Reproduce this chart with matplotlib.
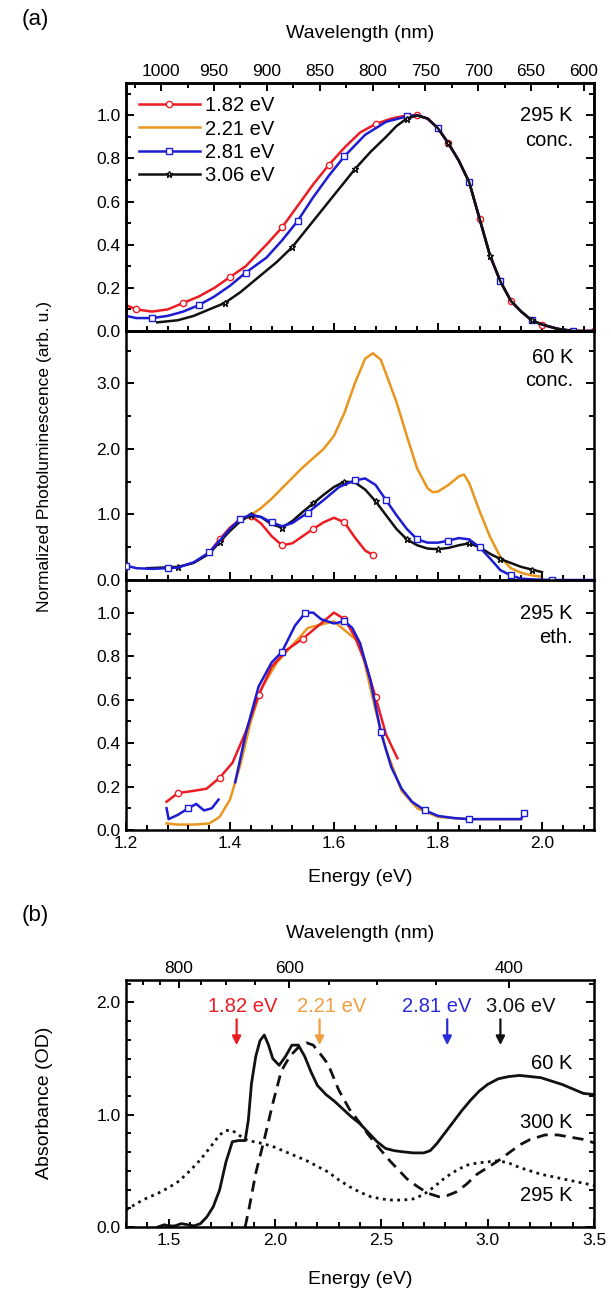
import numpy as np
import matplotlib
matplotlib.use('Agg')
import matplotlib.pyplot as plt
from matplotlib.ticker import MultipleLocator, FormatStrFormatter, FixedLocator

plt.rcParams['font.family'] = ['Liberation Sans', 'DejaVu Sans']

RED = '#ec1c24'
ORANGE = '#e8961e'
BLUE = '#1c1cd2'
BLACK = '#111111'

# ---------------- (a) PL, 295 K concentrated ----------------
# common high-energy tail (all excitations overlap here)
e_tail_295c = [1.76, 1.78, 1.80, 1.82, 1.84, 1.86, 1.88, 1.90, 1.92, 1.94, 1.96, 1.98, 2.00, 2.03, 2.06, 2.10]
pl_tail_295c = [1.0, 0.985, 0.94, 0.87, 0.79, 0.69, 0.52, 0.35, 0.23, 0.14, 0.09, 0.05, 0.03, 0.01, 0.0, 0.0]

e_red_295c = [1.20, 1.22, 1.25, 1.28, 1.31, 1.34, 1.37, 1.40, 1.43, 1.47, 1.50, 1.53, 1.56, 1.59, 1.62, 1.65, 1.68, 1.71, 1.74]
pl_red_295c = [0.12, 0.10, 0.09, 0.10, 0.13, 0.16, 0.20, 0.25, 0.30, 0.40, 0.48, 0.58, 0.68, 0.77, 0.85, 0.92, 0.96, 0.985, 1.0]

e_blue_295c = [1.20, 1.22, 1.25, 1.28, 1.31, 1.34, 1.37, 1.40, 1.43, 1.47, 1.50, 1.53, 1.56, 1.59, 1.62, 1.66, 1.70, 1.74]
pl_blue_295c = [0.07, 0.06, 0.06, 0.07, 0.09, 0.12, 0.16, 0.21, 0.27, 0.34, 0.42, 0.51, 0.62, 0.72, 0.81, 0.91, 0.97, 0.995]

e_black_295c = [1.26, 1.28, 1.30, 1.33, 1.36, 1.39, 1.42, 1.45, 1.49, 1.52, 1.55, 1.58, 1.61, 1.64, 1.67, 1.70, 1.72, 1.74]
pl_black_295c = [0.04, 0.045, 0.05, 0.07, 0.10, 0.13, 0.18, 0.24, 0.32, 0.39, 0.48, 0.57, 0.66, 0.75, 0.83, 0.90, 0.95, 0.985]

# ---------------- (a) PL, 60 K concentrated ----------------
e_red_60 = [1.36, 1.38, 1.40, 1.42, 1.44, 1.46, 1.48, 1.50, 1.52, 1.54, 1.56, 1.58, 1.60, 1.62, 1.64, 1.66, 1.675]
pl_red_60 = [0.42, 0.62, 0.80, 0.93, 0.98, 0.86, 0.67, 0.53, 0.56, 0.67, 0.78, 0.88, 0.95, 0.88, 0.65, 0.45, 0.38]

e_orange_60 = [1.40, 1.42, 1.44, 1.46, 1.48, 1.50, 1.52, 1.54, 1.56, 1.58, 1.60, 1.62, 1.64, 1.66, 1.675, 1.69,
               1.70, 1.72, 1.74, 1.76, 1.78, 1.79, 1.80, 1.82, 1.84, 1.85, 1.86, 1.88, 1.90, 1.92, 1.94, 1.96, 1.98, 2.00]
pl_orange_60 = [0.75, 0.90, 0.99, 1.10, 1.24, 1.40, 1.56, 1.72, 1.86, 2.00, 2.20, 2.55, 3.00, 3.38, 3.46, 3.36,
                3.15, 2.72, 2.20, 1.70, 1.40, 1.34, 1.35, 1.45, 1.58, 1.61, 1.48, 1.05, 0.66, 0.35, 0.18, 0.11, 0.07, 0.05]

e_blue_60 = [1.20, 1.22, 1.25, 1.28, 1.30, 1.33, 1.36, 1.38, 1.40, 1.42, 1.44, 1.46, 1.48, 1.50, 1.52, 1.55, 1.58,
             1.61, 1.64, 1.66, 1.68, 1.70, 1.72, 1.74, 1.76, 1.78, 1.80, 1.82, 1.84, 1.86, 1.88, 1.90, 1.92,
             1.94, 1.96, 1.98, 2.02, 2.06, 2.10]
pl_blue_60 = [0.22, 0.18, 0.17, 0.18, 0.19, 0.27, 0.42, 0.60, 0.78, 0.93, 1.0, 0.96, 0.88, 0.82, 0.87, 1.03, 1.22,
              1.42, 1.52, 1.55, 1.45, 1.22, 0.99, 0.78, 0.62, 0.57, 0.57, 0.60, 0.64, 0.62, 0.50, 0.33, 0.15,
              0.07, 0.02, 0.01, 0.0, 0.0, 0.0]

e_black_60 = [1.24, 1.27, 1.30, 1.33, 1.36, 1.38, 1.40, 1.42, 1.44, 1.46, 1.48, 1.50, 1.52, 1.54, 1.56, 1.58, 1.60,
              1.62, 1.64, 1.66, 1.68, 1.70, 1.72, 1.74, 1.76, 1.78, 1.80, 1.82, 1.84, 1.86, 1.88, 1.90, 1.92,
              1.94, 1.96, 1.98, 2.00]
pl_black_60 = [0.18, 0.19, 0.20, 0.26, 0.40, 0.58, 0.75, 0.90, 0.99, 0.96, 0.85, 0.80, 0.90, 1.04, 1.17, 1.30, 1.42,
               1.50, 1.49, 1.38, 1.20, 0.99, 0.78, 0.62, 0.53, 0.48, 0.47, 0.49, 0.53, 0.56, 0.50, 0.40, 0.32,
               0.26, 0.20, 0.16, 0.12]

# ---------------- (a) PL, 295 K ethanol ----------------
e_red_eth = [1.278, 1.30, 1.33, 1.355, 1.38, 1.405, 1.43, 1.455, 1.48, 1.51, 1.54, 1.57, 1.60, 1.62, 1.64, 1.66, 1.68, 1.70, 1.722]
pl_red_eth = [0.13, 0.17, 0.18, 0.19, 0.24, 0.31, 0.45, 0.62, 0.75, 0.83, 0.88, 0.94, 1.0, 0.97, 0.89, 0.77, 0.61, 0.44, 0.33]

e_orange_eth = [1.278, 1.30, 1.33, 1.36, 1.38, 1.40, 1.42, 1.44, 1.46, 1.49, 1.52, 1.55, 1.60, 1.65, 1.68, 1.70,
                1.73, 1.76, 1.80, 1.86, 1.96]
pl_orange_eth = [0.03, 0.025, 0.025, 0.03, 0.06, 0.14, 0.30, 0.50, 0.65, 0.77, 0.85, 0.93, 0.96, 0.86, 0.55, 0.37,
                 0.18, 0.10, 0.06, 0.05, 0.05]

e_blue_eth_low = [1.278, 1.282, 1.30, 1.32, 1.335, 1.35, 1.365, 1.378]
pl_blue_eth_low = [0.10, 0.05, 0.07, 0.10, 0.12, 0.09, 0.10, 0.14]
e_blue_eth = [1.41, 1.43, 1.455, 1.48, 1.50, 1.525, 1.545, 1.56, 1.575, 1.60, 1.62, 1.635, 1.65, 1.67, 1.69, 1.71,
              1.73, 1.75, 1.775, 1.80, 1.83, 1.86, 1.90, 1.94, 1.96, 1.965]
pl_blue_eth = [0.22, 0.44, 0.66, 0.77, 0.82, 0.94, 1.0, 1.0, 0.97, 0.95, 0.96, 0.93, 0.86, 0.69, 0.45, 0.29,
               0.19, 0.13, 0.09, 0.065, 0.055, 0.05, 0.05, 0.05, 0.05, 0.08]

# ---------------- (b) absorbance ----------------
e_abs_60 = [1.45, 1.48, 1.50, 1.53, 1.56, 1.59, 1.62, 1.65, 1.68, 1.71, 1.74, 1.77, 1.80, 1.83, 1.86, 1.875, 1.89,
            1.91, 1.93, 1.95, 1.97, 1.99, 2.02, 2.05, 2.08, 2.11, 2.14, 2.17, 2.20, 2.24, 2.28, 2.32, 2.36, 2.40,
            2.44, 2.48, 2.52, 2.56, 2.60, 2.65, 2.70, 2.73, 2.76, 2.80, 2.84, 2.88, 2.92, 2.96, 3.00, 3.05, 3.10,
            3.15, 3.20, 3.25, 3.30, 3.35, 3.40, 3.45, 3.50]
abs_60 = [0.0, 0.02, 0.01, 0.01, 0.03, 0.02, 0.01, 0.03, 0.09, 0.18, 0.33, 0.58, 0.76, 0.77, 0.77, 0.95, 1.28,
          1.52, 1.66, 1.71, 1.62, 1.50, 1.44, 1.52, 1.62, 1.62, 1.52, 1.38, 1.26, 1.18, 1.12, 1.05, 0.98, 0.92,
          0.84, 0.76, 0.70, 0.68, 0.67, 0.66, 0.66, 0.68, 0.74, 0.84, 0.94, 1.04, 1.13, 1.21, 1.27, 1.32, 1.34,
          1.35, 1.34, 1.33, 1.30, 1.27, 1.23, 1.19, 1.18]

e_abs_300 = [1.86, 1.88, 1.91, 1.95, 1.99, 2.03, 2.07, 2.11, 2.15, 2.18, 2.21, 2.25, 2.30, 2.35, 2.39, 2.44, 2.50,
             2.54, 2.58, 2.62, 2.67, 2.72, 2.77, 2.81, 2.85, 2.90, 2.95, 3.00, 3.05, 3.10, 3.15, 3.20, 3.27,
             3.33, 3.39, 3.45, 3.50]
abs_300 = [0.0, 0.18, 0.48, 0.78, 1.10, 1.39, 1.52, 1.60, 1.64, 1.62, 1.55, 1.45, 1.22, 1.05, 0.95, 0.82, 0.68,
           0.59, 0.51, 0.43, 0.36, 0.30, 0.27, 0.28, 0.31, 0.38, 0.47, 0.53, 0.59, 0.66, 0.73, 0.78, 0.82,
           0.82, 0.80, 0.78, 0.75]

e_abs_295 = [1.30, 1.35, 1.40, 1.45, 1.50, 1.55, 1.60, 1.65, 1.70, 1.74, 1.77, 1.80, 1.83, 1.86, 1.90, 1.95, 2.00,
             2.05, 2.10, 2.15, 2.20, 2.25, 2.30, 2.35, 2.40, 2.45, 2.50, 2.55, 2.60, 2.65, 2.70, 2.75, 2.80,
             2.85, 2.90, 2.95, 3.00, 3.05, 3.10, 3.15, 3.20, 3.25, 3.30, 3.35, 3.40, 3.45, 3.50]
abs_295 = [0.15, 0.21, 0.26, 0.30, 0.35, 0.41, 0.50, 0.60, 0.72, 0.82, 0.86, 0.86, 0.82, 0.78, 0.76, 0.74, 0.71,
           0.67, 0.63, 0.59, 0.54, 0.49, 0.42, 0.36, 0.31, 0.27, 0.25, 0.24, 0.24, 0.25, 0.29, 0.36, 0.44,
           0.50, 0.55, 0.57, 0.58, 0.59, 0.57, 0.53, 0.50, 0.47, 0.45, 0.43, 0.41, 0.39, 0.37]

exc_energies = [1.82, 2.21, 2.81, 3.06]
exc_labels = ['1.82 eV', '2.21 eV', '2.81 eV', '3.06 eV']
exc_label_x = [1.85, 2.265, 2.76, 3.155]
exc_colors = [RED, '#eea040', '#2a2ad8', BLACK]

wl_ticks_a = [1000, 950, 900, 850, 800, 750, 700, 650, 600]
wl_ticks_b = [800, 600, 400]

# ---------------- figure ----------------
W, H = 611, 1294
fig = plt.figure(figsize=(W / 100, H / 100), dpi=100)


def box(left, top, right, bottom):
    return [left / W, 1 - bottom / H, (right - left) / W, (bottom - top) / H]


L, R = 126, 594
ax1 = fig.add_axes(box(L, 83, R, 331))
ax2 = fig.add_axes(box(L, 331, R, 580))
ax3 = fig.add_axes(box(L, 580, R, 830))
axb = fig.add_axes(box(L, 980, R, 1227))

TICK_FS = 12.5
TEXT_FS = 14.5


def style(ax, top=False):
    for s in ax.spines.values():
        s.set_linewidth(1.8)
    ax.tick_params(which='both', direction='in', left=True, right=True, top=top, bottom=True,
                   width=1.4, labelsize=TICK_FS, pad=4)
    ax.tick_params(which='major', length=6)
    ax.tick_params(which='minor', length=3.5)


lw = 1.8
mk = dict(markerfacecolor='white', markersize=4.5, markeredgewidth=1.0)

# panel 1
ax1.plot(e_tail_295c, pl_tail_295c, color=ORANGE, lw=lw, label='2.21 eV', zorder=1)
ax1.plot(e_red_295c + e_tail_295c, pl_red_295c + pl_tail_295c, color=RED, lw=lw, marker='o',
         markevery=(1, 3), label='1.82 eV', zorder=2, **mk)
ax1.plot(e_blue_295c + e_tail_295c, pl_blue_295c + pl_tail_295c, color=BLUE, lw=lw, marker='s',
         markevery=(2, 3), label='2.81 eV', zorder=3, **mk)
ax1.plot(e_black_295c + e_tail_295c, pl_black_295c + pl_tail_295c, color=BLACK, lw=lw, marker='*',
         markevery=(5, 4), label='3.06 eV', zorder=4, **mk)
ax1.set_ylim(0, 1.15)
ax1.yaxis.set_major_locator(MultipleLocator(0.2))
ax1.yaxis.set_minor_locator(MultipleLocator(0.1))
h, lab = ax1.get_legend_handles_labels()
order = [1, 0, 2, 3]
ax1.legend([h[i] for i in order], [lab[i] for i in order], loc='upper left', frameon=False,
           fontsize=TEXT_FS, handlelength=3.0, handletextpad=0.25, labelspacing=0.22,
           borderaxespad=0.25, numpoints=1)
ax1.text(0.955, 0.87, '295 K', transform=ax1.transAxes, ha='right', va='center', fontsize=TEXT_FS)
ax1.text(0.955, 0.77, 'conc.', transform=ax1.transAxes, ha='right', va='center', fontsize=TEXT_FS)

# panel 2
ax2.plot(e_orange_60, pl_orange_60, color=ORANGE, lw=lw, zorder=1)
ax2.plot(e_red_60, pl_red_60, color=RED, lw=lw, marker='o', markevery=(1, 3), zorder=2, **mk)
ax2.plot(e_black_60, pl_black_60, color=BLACK, lw=lw, marker='*', markevery=(2, 3), zorder=3, **mk)
ax2.plot(e_blue_60, pl_blue_60, color=BLUE, lw=lw, marker='s', markevery=(0, 3), zorder=4, **mk)
ax2.set_ylim(0, 3.8)
ax2.yaxis.set_major_locator(MultipleLocator(1.0))
ax2.yaxis.set_minor_locator(MultipleLocator(0.5))
ax2.text(0.955, 0.895, '60 K', transform=ax2.transAxes, ha='right', va='center', fontsize=TEXT_FS)
ax2.text(0.955, 0.80, 'conc.', transform=ax2.transAxes, ha='right', va='center', fontsize=TEXT_FS)

# panel 3
ax3.plot(e_orange_eth, pl_orange_eth, color=ORANGE, lw=lw, zorder=1)
ax3.plot(e_red_eth, pl_red_eth, color=RED, lw=lw, marker='o', markevery=(1, 3), zorder=2, **mk)
ax3.plot(e_blue_eth_low, pl_blue_eth_low, color=BLUE, lw=lw, marker='s', markevery=[3], zorder=3, **mk)
ax3.plot(e_blue_eth, pl_blue_eth, color=BLUE, lw=lw, marker='s', markevery=[4, 6, 10, 14, 18, 21, 25],
         zorder=3, **mk)
ax3.set_ylim(0, 1.15)
ax3.yaxis.set_major_locator(MultipleLocator(0.2))
ax3.yaxis.set_minor_locator(MultipleLocator(0.1))
ax3.text(0.955, 0.865, '295 K', transform=ax3.transAxes, ha='right', va='center', fontsize=TEXT_FS)
ax3.text(0.955, 0.77, 'eth.', transform=ax3.transAxes, ha='right', va='center', fontsize=TEXT_FS)

for ax in (ax1, ax2, ax3):
    ax.set_xlim(1.2, 2.1)
    ax.xaxis.set_major_locator(MultipleLocator(0.2))
    ax.xaxis.set_minor_locator(MultipleLocator(0.04))
    ax.yaxis.set_major_formatter(FormatStrFormatter('%.1f'))
    style(ax)
    ax.patch.set_alpha(0)
ax1.tick_params(labelbottom=False)
ax2.tick_params(labelbottom=False)
ax3.xaxis.set_major_formatter(FormatStrFormatter('%.1f'))

# wavelength axis (a) - linear between the end energies
axw = ax1.twiny()
axw.set_xlim(1240 / 1.2, 1240 / 2.1)
axw.xaxis.set_major_locator(FixedLocator(wl_ticks_a))
axw.xaxis.set_minor_locator(MultipleLocator(25))
axw.tick_params(which='both', direction='in', top=True, bottom=False, width=1.4, labelsize=TICK_FS, pad=3)
axw.tick_params(which='major', length=6)
axw.tick_params(which='minor', length=3.5)
for s in axw.spines.values():
    s.set_linewidth(1.8)

# panel b
axb.plot(e_abs_295, abs_295, color=BLACK, lw=2.0, linestyle=(0, (1, 1.6)))
axb.plot(e_abs_300, abs_300, color=BLACK, lw=2.0, linestyle=(0, (4, 2.5)))
axb.plot(e_abs_60, abs_60, color=BLACK, lw=2.0)
axb.set_xlim(1.3, 3.5)
axb.set_ylim(0, 2.2)
axb.xaxis.set_major_locator(MultipleLocator(0.5))
axb.xaxis.set_minor_locator(MultipleLocator(0.1))
axb.yaxis.set_major_locator(MultipleLocator(1.0))
axb.yaxis.set_minor_locator(MultipleLocator(1 / 6))
axb.xaxis.set_major_formatter(FormatStrFormatter('%.1f'))
axb.yaxis.set_major_formatter(FormatStrFormatter('%.1f'))
style(axb)

for e, lab, lx, c in zip(exc_energies, exc_labels, exc_label_x, exc_colors):
    axb.text(lx, 1.96, lab, color=c, ha='center', va='center', fontsize=TEXT_FS)
    axb.annotate('', xy=(e, 1.62), xytext=(e, 1.85),
                 arrowprops=dict(arrowstyle='-|>', color=c, lw=1.6, mutation_scale=13,
                                 shrinkA=0, shrinkB=0))
axb.text(3.40, 1.46, '60 K', ha='right', va='center', fontsize=TEXT_FS)
axb.text(3.40, 0.93, '300 K', ha='right', va='center', fontsize=TEXT_FS)
axb.text(3.40, 0.28, '295 K', ha='right', va='center', fontsize=TEXT_FS)

axbw = axb.secondary_xaxis('top', functions=(lambda x: 1240 / np.maximum(x, 1e-3),
                                             lambda x: 1240 / np.maximum(x, 1e-3)))
axbw.xaxis.set_major_locator(FixedLocator(wl_ticks_b))
axbw.xaxis.set_minor_locator(FixedLocator([900, 850, 750, 700, 650, 550, 500, 450]))
axbw.tick_params(which='both', direction='in', width=1.4, labelsize=TICK_FS, pad=3)
axbw.tick_params(which='major', length=6)
axbw.tick_params(which='minor', length=3.5)

# labels
fig.text(22 / W, 1 - 20 / H, '(a)', fontsize=16, va='center', ha='left')
fig.text(22 / W, 1 - 915 / H, '(b)', fontsize=16, va='center', ha='left')
fig.text(360 / W, 1 - 34 / H, 'Wavelength (nm)', fontsize=TEXT_FS - 0.5, ha='center', va='center')
fig.text(360 / W, 1 - 933 / H, 'Wavelength (nm)', fontsize=TEXT_FS - 0.5, ha='center', va='center')
fig.text(360 / W, 1 - 878 / H, 'Energy (eV)', fontsize=TEXT_FS - 0.5, ha='center', va='center')
fig.text(360 / W, 1 - 1279 / H, 'Energy (eV)', fontsize=TEXT_FS - 0.5, ha='center', va='center')
fig.text(45 / W, 1 - 456 / H, 'Normalized Photoluminescence (arb. u.)', fontsize=12.5,
         rotation=90, ha='center', va='center')
fig.text(45 / W, 1 - 1103 / H, 'Absorbance (OD)', fontsize=TEXT_FS - 0.5, rotation=90, ha='center', va='center')

fig.savefig('out.png', dpi=100)
